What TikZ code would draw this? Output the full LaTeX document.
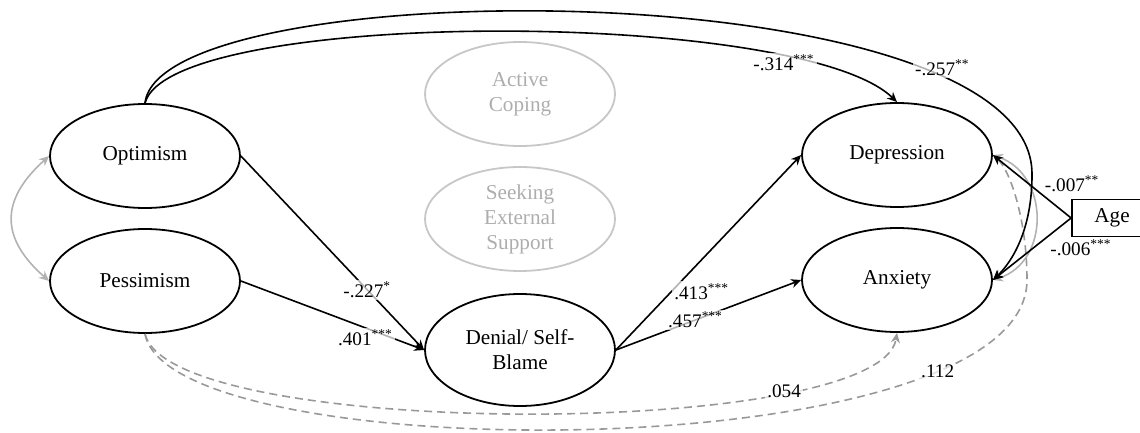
\documentclass[tikz,border=0pt]{standalone}
\usepackage{fontspec}
\setmainfont{Liberation Serif}
\usetikzlibrary{shapes.geometric,arrows.meta}

\tikzset{
  latent/.style={ellipse, draw, line width=0.9pt, minimum width=95pt, minimum height=52pt,
    inner sep=0pt, align=center, font=\fontsize{10.6}{12.5}\selectfont},
  faded/.style={latent, draw=black!22, text=black!32},
  observed/.style={draw, line width=0.9pt, minimum width=40pt, minimum height=18.5pt,
    inner sep=0pt, font=\fontsize{10.6}{12.5}\selectfont},
  effect/.style={line width=0.8pt, -{Stealth[length=5pt,width=4.5pt]}},
  nonsig/.style={line width=0.8pt, draw=black!40, dash pattern=on 4pt off 2.5pt,
    -{Stealth[length=5pt,width=4.5pt]}},
  covar/.style={line width=0.8pt, draw=black!30,
    {Stealth[length=5pt,width=4.5pt]}-{Stealth[length=5pt,width=4.5pt]}},
  coef/.style={fill=white, fill opacity=0.7, text opacity=1, inner sep=1pt,
    font=\fontsize{9.6}{11}\selectfont},
}

\begin{document}
\begin{tikzpicture}[x=0.5pt,y=-0.5pt]
\useasboundingbox (0,0) rectangle (1140,433);

% constructs
\node[latent] (opt) at (145,156) {Optimism};
\node[latent] (pes) at (145,281) {Pessimism};
\node[faded] (act) at (520,94) {Active\\Coping};
\node[faded] (ses) at (520,219) {Seeking\\External\\Support};
\node[latent, minimum height=56pt] (den) at (520,350) {Denial/ Self-\\Blame};
\node[latent] (dep) at (897,155) {Depression};
\node[latent] (anx) at (897,280) {Anxiety};
\node[observed] (age) at (1112,218) {Age};

\coordinate (bendR) at (1032,175);
\coordinate (bendL) at (1027,280);

% correlations
\draw[covar] (opt.west) .. controls (0,200) and (0,238) .. (pes.west);
\draw[covar] (dep.east) .. controls (1050,175) and (1050,262) .. (anx.east);

% non-significant paths
\draw[nonsig] (pes.south) .. controls (170,440) and (880,440) .. node[coef,pos=0.76] {.054} (anx.south);
\draw[nonsig] (pes.south) .. controls (170,470) and (1027,470) .. (bendL) node[coef,pos=0.8] {.112}
  .. controls (1027,220) and (1010,170) .. (dep.east);

% direct paths
\draw[effect] (opt.north) .. controls (170,8) and (800,8) .. node[coef,pos=0.8,yshift=-3pt] {-.314\textsuperscript{***}} (dep.north);
\draw[effect] (opt.north) .. controls (160,-30) and (1035,-30) .. (bendR) node[coef,pos=0.8,yshift=4pt] {-.257\textsuperscript{**}}
  .. controls (1032,230) and (1012,262) .. (anx.east);

% mediation
\draw[effect] (opt.east) -- node[coef,pos=0.69] {-.227\textsuperscript{*}} (den.west);
\draw[effect] (pes.east) -- node[coef,pos=0.68,yshift=-5pt] {.401\textsuperscript{***}} (den.west);
\draw[effect] (den.east) -- node[coef,pos=0.3,anchor=west] {.413\textsuperscript{***}} (dep.west);
\draw[effect] (den.east) -- node[coef,pos=0.43] {.457\textsuperscript{***}} (anx.west);

% covariate
\draw[effect] (age.west) -- node[coef,pos=0.37,anchor=south west] {-.007\textsuperscript{**}} (dep.east);
\draw[effect] (age.west) -- node[coef,pos=0.3,anchor=north west] {-.006\textsuperscript{***}} (anx.east);
\end{tikzpicture}
\end{document}
